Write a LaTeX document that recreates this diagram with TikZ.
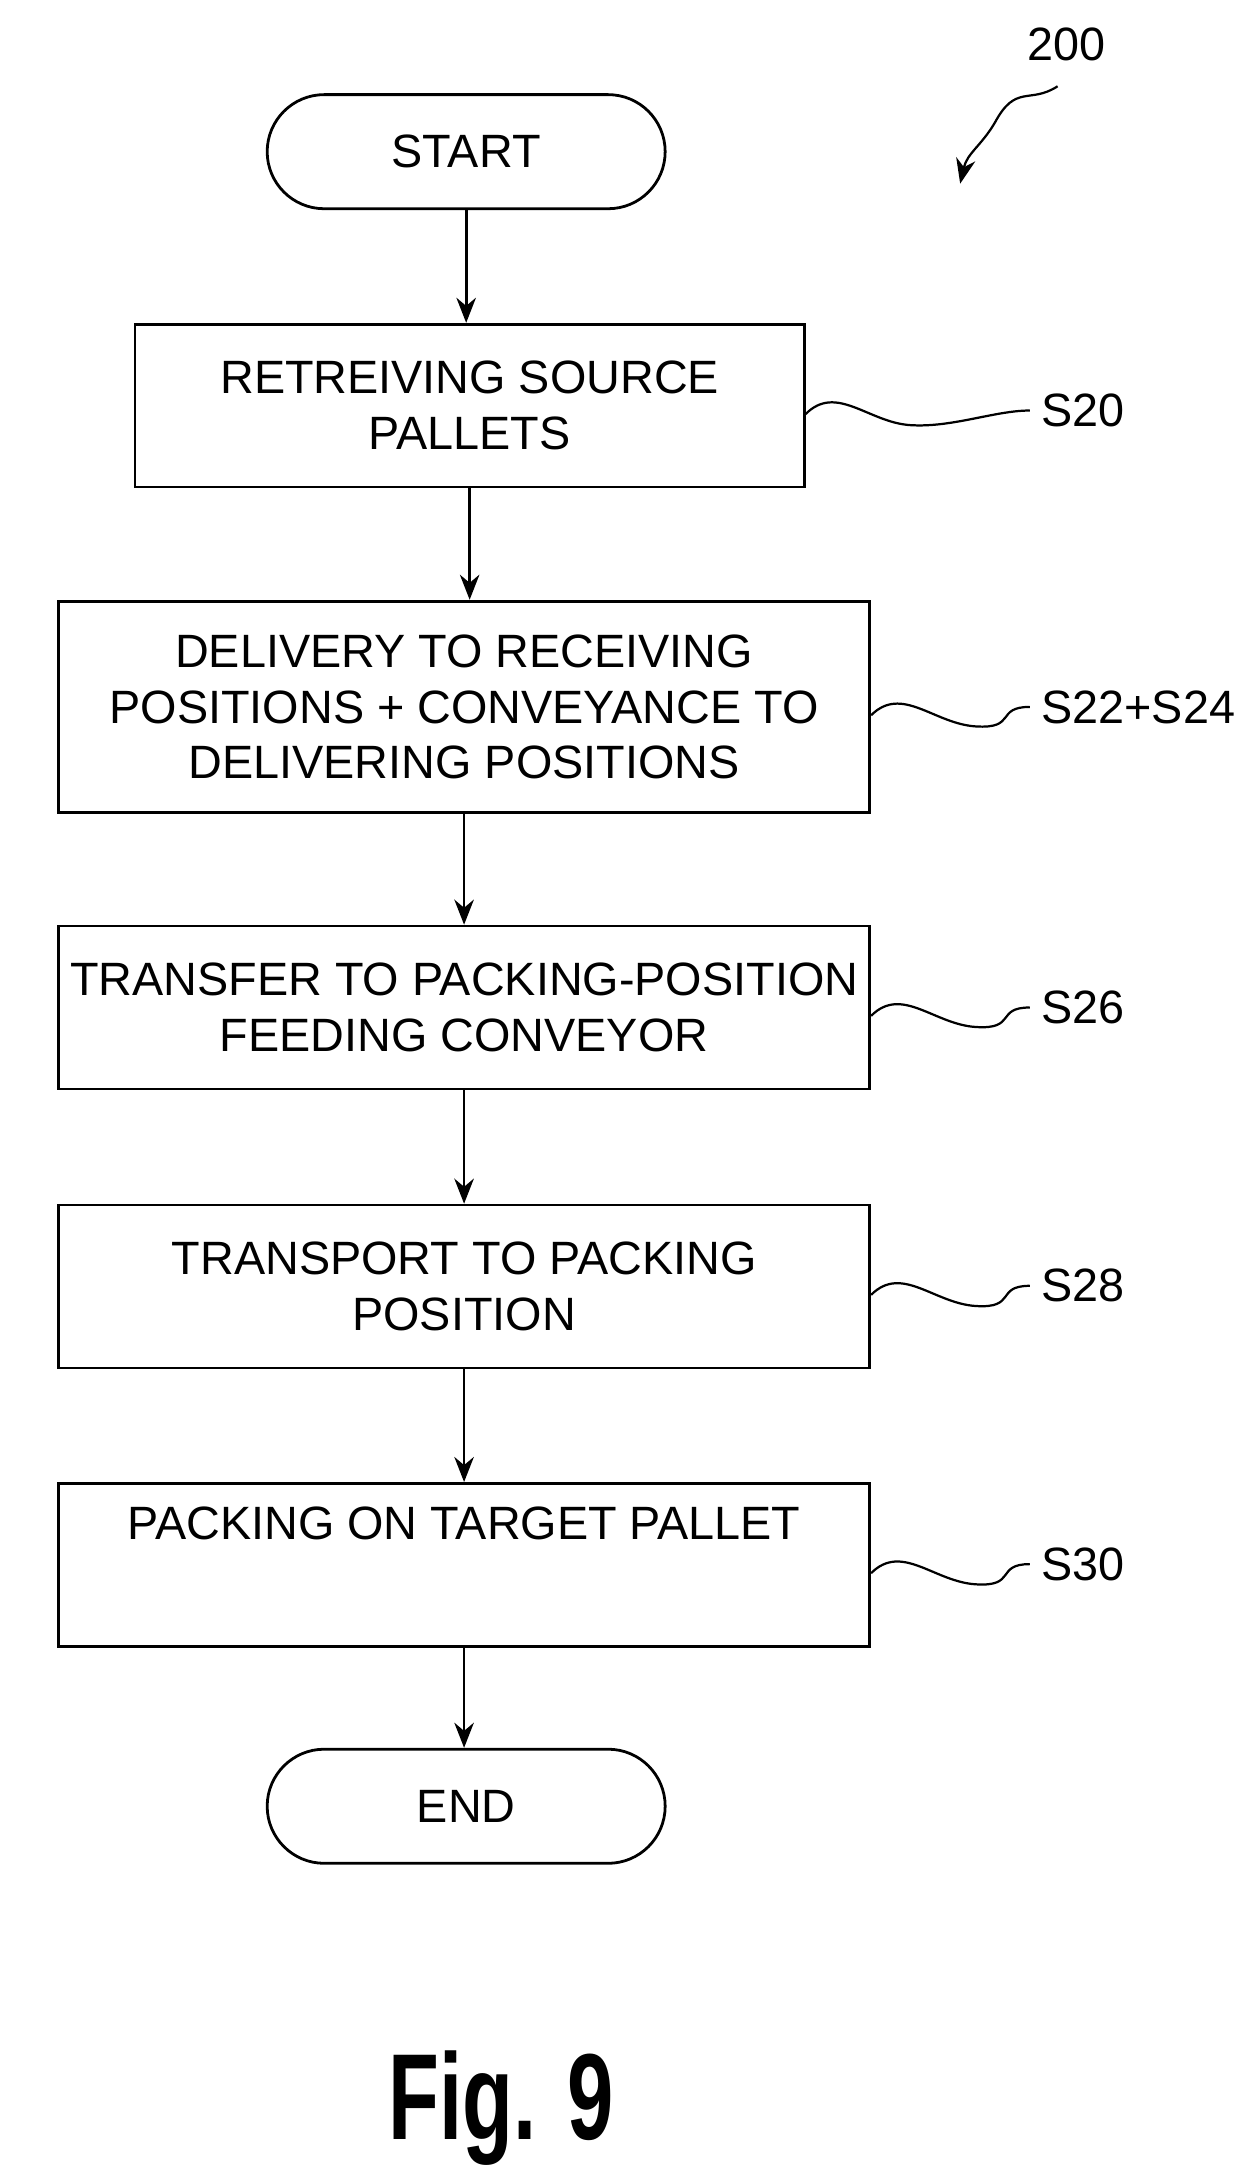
\documentclass[tikz,border=0pt]{standalone}
\usepackage{fontspec}
\setmainfont{Liberation Sans}
\usetikzlibrary{arrows.meta}
\begin{document}
\begin{tikzpicture}[x=0.5pt,y=-0.5pt,
 every node/.style={font=\fontsize{16.8}{20}\selectfont},
 box/.style={draw,line width=1pt,align=center,inner sep=0pt},
 term/.style={draw,line width=1pt,rounded corners=20.5pt,minimum width=143pt,minimum height=41pt},
 arr/.style={-{Stealth[length=9pt,width=7pt]},line width=1pt},
 sq/.style={line width=0.8pt},
 lab/.style={anchor=west,inner sep=0pt}]
\useasboundingbox (0,0) rectangle (900,1563);
\node[term] (st) at (335,109) {START};
\node[box,minimum width=240.5pt,minimum height=58.5pt] (s20) at (337.5,291.5) {RETREIVING SOURCE\\PALLETS};
\node[box,minimum width=291.5pt,minimum height=76pt] (s22) at (333.5,508) {DELIVERY TO RECEIVING\\POSITIONS + CONVEYANCE TO\\DELIVERING POSITIONS};
\node[box,minimum width=291.5pt,minimum height=58.5pt] (s26) at (333.5,724) {TRANSFER TO PACKING-POSITION\\FEEDING CONVEYOR};
\node[box,minimum width=291.5pt,minimum height=58.5pt] (s28) at (333.5,924.5) {TRANSPORT TO PACKING\\POSITION};
\node[box,minimum width=291.5pt,minimum height=58.5pt] (s30) at (333.5,1124.5) {PACKING ON TARGET PALLET\\[10pt]\mbox{}};
\node[term] (en) at (335,1298) {END};
\draw[arr] (st) -- (st|-s20.north);
\draw[arr] (s20) -- (s20|-s22.north);
\draw[arr] (s22) -- (s22|-s26.north);
\draw[arr] (s26) -- (s26|-s28.north);
\draw[arr] (s28) -- (s28|-s30.north);
\draw[arr] (s30) -- (s30|-en.north);
\node[lab] (l20) at (748,295) {S20};
\node[lab] (l22) at (748,508) {S22+S24};
\node[lab] (l26) at (748,724) {S26};
\node[lab] (l28) at (748,924) {S28};
\node[lab] (l30) at (748,1124) {S30};
\foreach \b/\l in {s20/l20,s22/l22,s26/l26,s28/l28,s30/l30}{
 \draw[sq] ([yshift=-3pt]\b.east) .. controls +(22,-22) and +(-30,-2) .. ++(75,8) .. controls +(30,2) and +(-25,0) .. ([xshift=-4pt]\l.west);
}
\node[lab] (l200) at (738,32) {200};
\coordinate (a200) at (690,132);
\draw[arr,line width=0.8pt] (760,62) .. controls (740,75) and (730,60) .. (715,88) .. controls (705,105) and (695,110) .. (a200);
\node[font=\bfseries\fontsize{44}{50}\selectfont,xscale=0.68] (fig) at (360,1515) {Fig. 9};
\end{tikzpicture}
\end{document}
